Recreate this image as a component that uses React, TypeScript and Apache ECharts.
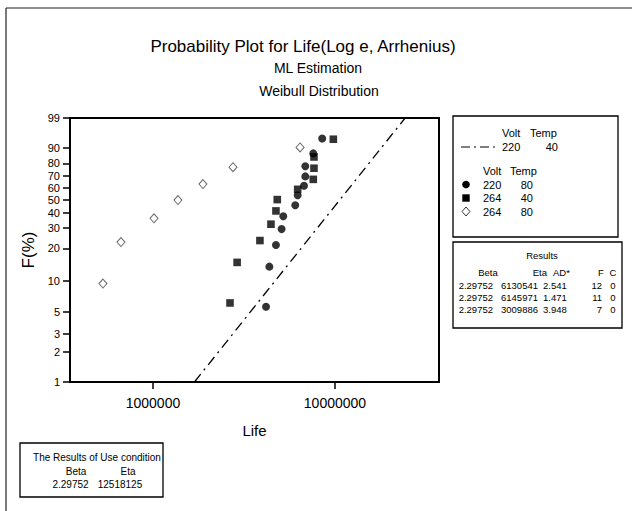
import React, { useEffect, useRef } from "react";
import * as echarts from "echarts";

// ---------- data ----------
const circleLife = [4180000, 4360000, 4740000, 5090000, 5200000, 6050000, 6240000, 6760000, 6870000, 6870000, 7600000, 8510000];
const circleF = [5.6, 13.6, 21.5, 29.5, 37.5, 45.5, 53.5, 61.5, 69.5, 77.8, 86.8, 94.3];

const squareLife = [2650000, 2900000, 3870000, 4450000, 4740000, 4820000, 6240000, 7600000, 7670000, 7670000, 9800000];
const squareF = [6.1, 14.9, 23.5, 32.4, 41.3, 50.0, 58.5, 67.0, 76.2, 84.5, 94.0];

const diamondLife = [531000, 667000, 1013000, 1372000, 1882000, 2752000, 6430000];
const diamondF = [9.4, 22.8, 36.2, 49.6, 63.0, 77.0, 90.2];

// use-condition fitted line (220 V, 40 C), endpoints at the axis limits
const lineLife = [1690000, 24300000];
const lineF = [1, 99];

const xTicks = [1000000, 10000000];
const yTickPercents = [1, 2, 3, 5, 10, 20, 30, 40, 50, 60, 70, 80, 90, 99];

const legendVolt = ["220", "264", "264"];
const legendTemp = ["80", "40", "80"];
const useVolt = "220";
const useTemp = "40";

const resBeta = ["2.29752", "2.29752", "2.29752"];
const resEta = ["6130541", "6145971", "3009886"];
const resAD = ["2.541", "1.471", "3.948"];
const resF = ["12", "11", "7"];
const resC = ["0", "0", "0"];

const useBeta = "2.29752";
const useEta = "12518125";

// ---------- helpers ----------
const wb = (p: number) => Math.log(-Math.log(1 - p / 100));
const FONT = "'Liberation Sans', Arial, sans-serif";
const black = "#000";

const pts = (life: number[], f: number[]) => life.map((t, i) => [t, wb(f[i])]);

const txt = (
  text: string,
  x: number,
  y: number,
  size: number,
  align: "left" | "center" | "right" = "left"
) => ({
  type: "text",
  x,
  y,
  silent: true,
  style: {
    text,
    fontSize: size,
    fontFamily: FONT,
    fill: black,
    textAlign: align,
    textVerticalAlign: "middle",
  },
});

function buildGraphic() {
  const g: any[] = [];
  // outer frame (top + left edges visible)
  g.push({ type: "line", shape: { x1: 6, y1: 8, x2: 632, y2: 8 }, style: { stroke: "#222", lineWidth: 1.2 } });
  g.push({ type: "line", shape: { x1: 6, y1: 8, x2: 6, y2: 511 }, style: { stroke: "#222", lineWidth: 1.2 } });

  // titles
  g.push(txt("Probability Plot for Life(Log e, Arrhenius)", 303, 46, 17, "center"));
  g.push(txt("ML Estimation", 318, 68, 14, "center"));
  g.push(txt("Weibull Distribution", 319, 91, 14, "center"));

  // legend box
  const LF = 11;
  g.push({ type: "rect", shape: { x: 453, y: 116, width: 165, height: 121 }, style: { fill: "#fff", stroke: black, lineWidth: 1.3 } });
  g.push(txt("Volt", 502, 133, LF));
  g.push(txt("Temp", 530, 133, LF));
  g.push({ type: "line", shape: { x1: 461, y1: 147, x2: 497, y2: 147 }, style: { stroke: black, lineWidth: 1.2, lineDash: [9, 4, 2, 4] } });
  g.push(txt(useVolt, 502, 147, LF));
  g.push(txt(useTemp, 558, 147, LF, "right"));
  g.push(txt("Volt", 483, 171, LF));
  g.push(txt("Temp", 510, 171, LF));
  const rowY = [184.5, 198, 211.5];
  legendVolt.forEach((v, i) => {
    g.push(txt(v, 483, rowY[i], LF));
    g.push(txt(legendTemp[i], 533, rowY[i], LF, "right"));
  });
  g.push({ type: "circle", shape: { cx: 466, cy: rowY[0], r: 3.8 }, style: { fill: black } });
  g.push({ type: "rect", shape: { x: 462.3, y: rowY[1] - 3.7, width: 7.4, height: 7.4 }, style: { fill: black } });
  g.push({
    type: "polygon",
    shape: { points: [[466, rowY[2] - 4.5], [470, rowY[2]], [466, rowY[2] + 4.5], [462, rowY[2]]] },
    style: { fill: "#fff", stroke: "#333", lineWidth: 1 },
  });

  // results box
  g.push({ type: "rect", shape: { x: 453, y: 242, width: 169, height: 86 }, style: { fill: "#fff", stroke: black, lineWidth: 1.3 } });
  g.push(txt("Results", 542, 255, 9.5, "center"));
  g.push(txt("Beta", 488, 272, 9.5, "center"));
  g.push(txt("Eta", 547, 272, 9.5, "right"));
  g.push(txt("AD*", 553, 272, 9.5));
  g.push(txt("F", 601, 272, 9.5, "center"));
  g.push(txt("C", 613, 272, 9.5, "center"));
  const resY = [285.5, 297.5, 309.5];
  resBeta.forEach((b, i) => {
    g.push(txt(b, 493, resY[i], 9.5, "right"));
    g.push(txt(resEta[i], 538, resY[i], 9.5, "right"));
    g.push(txt(resAD[i], 543, resY[i], 9.5));
    g.push(txt(resF[i], 602, resY[i], 9.5, "right"));
    g.push(txt(resC[i], 613, resY[i], 9.5, "center"));
  });

  // use-condition box
  g.push({ type: "rect", shape: { x: 20, y: 443, width: 143, height: 54 }, style: { fill: "#fff", stroke: black, lineWidth: 1.3 } });
  g.push(txt("The Results of Use condition", 97, 457, 10, "center"));
  g.push(txt("Beta", 76, 471, 10, "center"));
  g.push(txt("Eta", 128, 471, 10, "center"));
  g.push(txt(useBeta, 70.5, 484.5, 10, "center"));
  g.push(txt(useEta, 120, 484.5, 10, "center"));
  return g;
}

export default function App() {
  const ref = useRef<HTMLDivElement>(null);
  useEffect(() => {
    document.body.style.margin = "0";
    const chart = echarts.init(ref.current!, null, { renderer: "svg" });
    const option: any = {
      animation: false,
      backgroundColor: "#fff",
      grid: {
        left: 70,
        top: 118,
        width: 369,
        height: 264,
        show: true,
        borderColor: black,
        borderWidth: 2,
        backgroundColor: "transparent",
      },
      xAxis: {
        type: "log",
        logBase: 10,
        min: 350000,
        max: 37300000,
        name: "Life",
        nameLocation: "middle",
        nameGap: 41,
        nameTextStyle: { fontSize: 15, fontFamily: FONT, color: black },
        axisLine: { show: true, onZero: false, lineStyle: { color: black, width: 2 } },
        axisTick: { show: true, inside: false, length: 7, customValues: xTicks, lineStyle: { color: black, width: 1.5 } },
        axisLabel: {
          customValues: xTicks,
          fontSize: 14,
          fontFamily: FONT,
          color: black,
          margin: 14,
          formatter: (v: number) => String(Math.round(v < 100 ? Math.pow(10, v) : v)),
        },
        minorTick: { show: false },
        splitLine: { show: false },
      },
      yAxis: {
        type: "value",
        min: wb(1),
        max: wb(99),
        name: "F(%)",
        nameLocation: "middle",
        nameRotate: 90,
        nameGap: 30,
        nameTextStyle: { fontSize: 17, fontFamily: FONT, color: black },
        axisLine: { show: true, onZero: false, lineStyle: { color: black, width: 2 } },
        axisTick: { show: true, inside: false, length: 7, customValues: yTickPercents.map(wb), lineStyle: { color: black, width: 1.5 } },
        axisLabel: {
          customValues: yTickPercents.map(wb),
          fontSize: 11,
          fontFamily: FONT,
          color: black,
          margin: 10,
          formatter: (v: number) => String(Math.round((1 - Math.exp(-Math.exp(v))) * 100)),
        },
        splitLine: { show: false },
      },
      series: [
        {
          name: "use",
          type: "line",
          data: pts(lineLife, lineF),
          symbol: "none",
          lineStyle: { color: black, width: 1.3, type: [10, 5, 2, 5] },
          z: 1,
        },
        {
          name: "220/80",
          type: "scatter",
          data: pts(circleLife, circleF),
          symbol: "circle",
          symbolSize: 8,
          itemStyle: { color: black },
        },
        {
          name: "264/40",
          type: "scatter",
          data: pts(squareLife, squareF),
          symbol: "rect",
          symbolSize: 7.6,
          itemStyle: { color: black },
        },
        {
          name: "264/80",
          type: "scatter",
          data: pts(diamondLife, diamondF),
          symbol: "diamond",
          symbolSize: [8, 9],
          itemStyle: { color: "#fff", borderColor: "#444", borderWidth: 1 },
        },
      ],
      graphic: buildGraphic(),
    };
    chart.setOption(option);
    return () => chart.dispose();
  }, []);
  return <div ref={ref} style={{ width: 632, height: 511 }} />;
}
